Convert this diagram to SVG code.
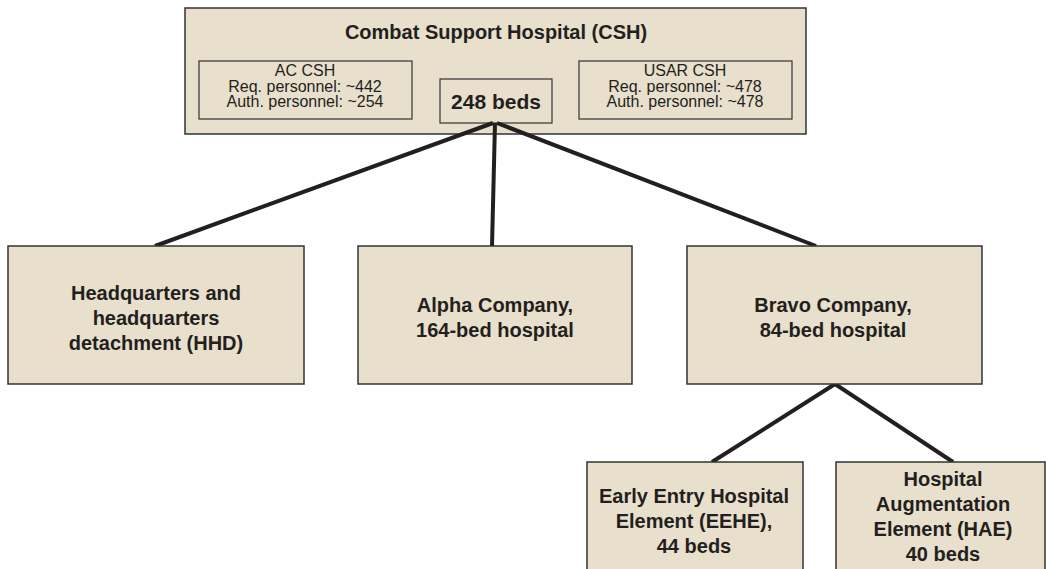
<svg xmlns="http://www.w3.org/2000/svg" width="1046" height="569" viewBox="0 0 1046 569">
<style>
.box{fill:#e8dfcc;stroke:#333;stroke-width:1.5}
.inner{fill:#e8dfcc;stroke:#333;stroke-width:1.2}
.t{font-family:"Liberation Sans",Arial,sans-serif;font-weight:bold;font-size:20px;fill:#231f20;text-anchor:middle}
.s{font-family:"Liberation Sans",Arial,sans-serif;font-size:16px;fill:#231f20;text-anchor:middle}
.c{stroke:#231f20;stroke-width:4;fill:none}
</style>
<rect width="1046" height="569" fill="#fff"/>
<g id="csh">
<rect class="box" x="185" y="8" width="621" height="126"/>
<text class="t" x="496" y="39">Combat Support Hospital (CSH)</text>
</g>
<g id="ac-csh">
<rect class="inner" x="199" y="61" width="213" height="58"/>
<text class="s" x="305" y="76">AC CSH</text>
<text class="s" x="305" y="92">Req. personnel: ~442</text>
<text class="s" x="305" y="107">Auth. personnel: ~254</text>
</g>
<g id="usar-csh">
<rect class="inner" x="579" y="61" width="213" height="58"/>
<text class="s" x="685" y="76">USAR CSH</text>
<text class="s" x="685" y="92">Req. personnel: ~478</text>
<text class="s" x="685" y="107">Auth. personnel: ~478</text>
</g>
<g id="beds">
<rect class="inner" x="440" y="79" width="112" height="44"/>
<text class="t" x="496" y="109" style="font-size:21px">248 beds</text>
</g>
<g id="connectors">
<line class="c" x1="493" y1="123" x2="155" y2="246"/>
<line class="c" x1="495" y1="123" x2="492" y2="246"/>
<line class="c" x1="497" y1="123" x2="816" y2="246"/>
<line class="c" x1="835" y1="384" x2="712" y2="462"/>
<line class="c" x1="835" y1="384" x2="953" y2="462"/>
</g>
<g id="hhd">
<rect class="box" x="8" y="246" width="296" height="138"/>
<text class="t" x="156" y="300">Headquarters and</text>
<text class="t" x="156" y="325">headquarters</text>
<text class="t" x="156" y="350">detachment (HHD)</text>
</g>
<g id="alpha">
<rect class="box" x="358" y="246" width="274" height="138"/>
<text class="t" x="495" y="312">Alpha Company,</text>
<text class="t" x="495" y="337">164-bed hospital</text>
</g>
<g id="bravo">
<rect class="box" x="687" y="246" width="295" height="138"/>
<text class="t" x="833" y="312">Bravo Company,</text>
<text class="t" x="833" y="337">84-bed hospital</text>
</g>
<g id="eehe">
<rect class="box" x="587" y="462" width="216" height="120"/>
<text class="t" x="694" y="503">Early Entry Hospital</text>
<text class="t" x="694" y="528">Element (EEHE),</text>
<text class="t" x="694" y="553">44 beds</text>
</g>
<g id="hae">
<rect class="box" x="836" y="462" width="209" height="120"/>
<text class="t" x="943" y="486">Hospital</text>
<text class="t" x="943" y="511">Augmentation</text>
<text class="t" x="943" y="536">Element (HAE)</text>
<text class="t" x="943" y="561">40 beds</text>
</g>
</svg>
